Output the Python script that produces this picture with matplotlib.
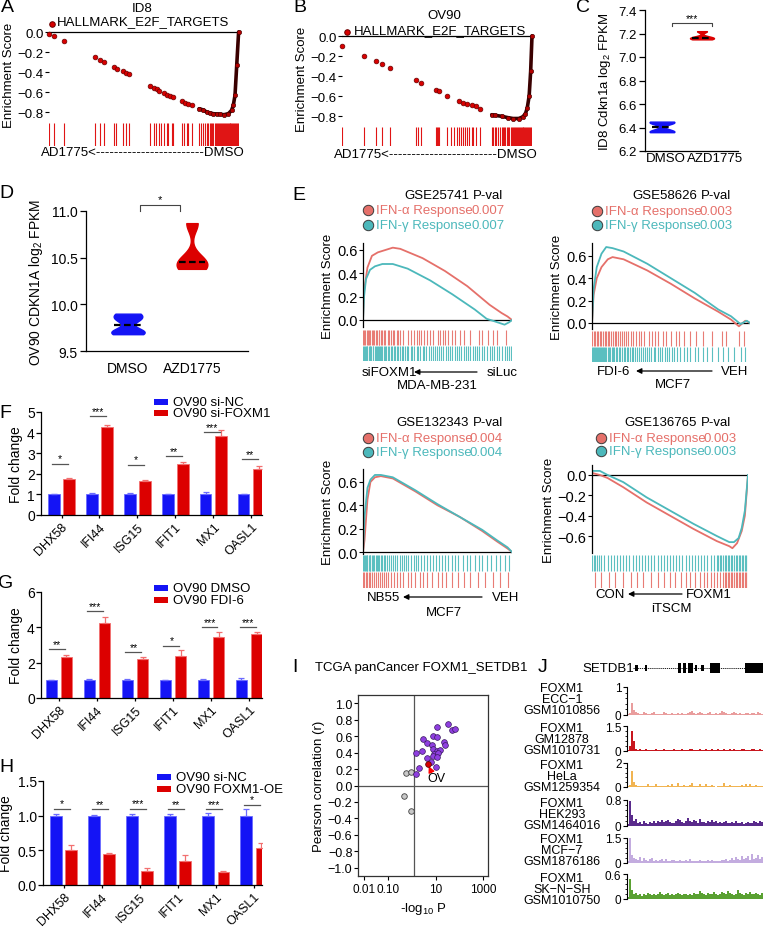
import numpy as np
import matplotlib
matplotlib.use("Agg")
import matplotlib.pyplot as plt
from matplotlib.patches import Rectangle, FancyArrowPatch
from matplotlib.lines import Line2D

plt.rcParams['font.family'] = ['Liberation Sans', 'DejaVu Sans']
plt.rcParams['mathtext.fontset'] = 'custom'
plt.rcParams['mathtext.rm'] = 'Liberation Sans'
plt.rcParams['mathtext.it'] = 'Liberation Sans:italic'
plt.rcParams['axes.linewidth'] = 0.9

# ------------------------------------------------------------------ data
# A  (ID8, HALLMARK_E2F_TARGETS) : rank fraction / running enrichment score
A_dot_x = [0.0, 0.026, 0.079, 0.24, 0.27, 0.29, 0.34, 0.36, 0.39, 0.405, 0.42, 0.53, 0.55, 0.57, 0.58,
           0.605, 0.62, 0.637, 0.654, 0.698, 0.718, 0.733, 0.751]
A_dot_es = [-0.017, -0.043, -0.09, -0.247, -0.277, -0.30, -0.35, -0.367, -0.39, -0.407, -0.423, -0.54, -0.56,
            -0.573, -0.59, -0.61, -0.627, -0.64, -0.653, -0.69, -0.707, -0.72, -0.733]
A_line_x = [0.791, 0.812, 0.83, 0.847, 0.865, 0.883, 0.90, 0.921, 0.944, 0.961, 0.97, 0.979, 0.988, 0.998]
A_line_es = [-0.767, -0.78, -0.80, -0.81, -0.817, -0.82, -0.823, -0.827, -0.817, -0.783, -0.733, -0.633, -0.333, 0.0]
A_hits = [0.0, 0.026, 0.079, 0.24, 0.27, 0.29, 0.34, 0.355, 0.39, 0.405, 0.42, 0.53, 0.55, 0.565, 0.578, 0.587,
          0.605, 0.62, 0.628, 0.645, 0.654, 0.698, 0.71, 0.724, 0.733, 0.751, 0.79, 0.80, 0.81, 0.82, 0.83,
          0.835, 0.845, 0.85, 0.86, 0.865, 0.875, 0.88, 0.885, 0.89, 0.895, 0.90, 0.905, 0.91, 0.915, 0.92,
          0.925, 0.93, 0.935, 0.94, 0.945, 0.95, 0.955, 0.96, 0.965, 0.97, 0.975, 0.98, 0.985, 0.99, 0.995, 1.0]

# B  (OV90, HALLMARK_E2F_TARGETS)
B_dot_x = [0.002, 0.114, 0.177, 0.209, 0.254, 0.391, 0.414, 0.495, 0.511, 0.554, 0.617, 0.638, 0.66,
           0.682, 0.703, 0.726]
B_dot_es = [-0.103, -0.20, -0.253, -0.283, -0.32, -0.443, -0.467, -0.537, -0.553, -0.597, -0.65, -0.667,
            -0.68, -0.693, -0.703, -0.727]
B_line_x = [0.788, 0.805, 0.84, 0.875, 0.90, 0.93, 0.95, 0.965, 0.975, 0.985, 0.993, 1.0]
B_line_es = [-0.787, -0.793, -0.803, -0.817, -0.825, -0.825, -0.81, -0.78, -0.72, -0.60, -0.35, 0.0]
B_hits = [0.002, 0.114, 0.177, 0.209, 0.254, 0.391, 0.40, 0.414, 0.495, 0.50, 0.505, 0.511, 0.554, 0.575,
          0.59, 0.605, 0.617, 0.625, 0.638, 0.645, 0.66, 0.668, 0.682, 0.69, 0.703, 0.726, 0.788, 0.795,
          0.805, 0.81, 0.82, 0.83, 0.84, 0.845, 0.855, 0.86, 0.87, 0.875, 0.88, 0.89, 0.895, 0.90, 0.905,
          0.91, 0.915, 0.92, 0.925, 0.93, 0.935, 0.94, 0.945, 0.95, 0.955, 0.96, 0.965, 0.97, 0.975, 0.98,
          0.985, 0.99, 0.995, 1.0]

# C / D violin replicates (log2 FPKM)
groups = ['DMSO', 'AZD1775']
C_dmso = [6.36, 6.37, 6.44, 6.45]
C_azd = [7.15, 7.16, 7.17, 7.22]
D_dmso = [9.68, 9.72, 9.84, 9.90]
D_azd = [10.38, 10.42, 10.48, 10.87]

# E  GSEA curves (rank fraction, ES) : red = IFN-alpha, teal = IFN-gamma
E1_rx = [0, 0.007, 0.03, 0.06, 0.10, 0.15, 0.20, 0.25, 0.40, 0.55, 0.70, 0.85, 0.93, 0.97, 1.0]
E1_ry = [0, 0.25, 0.45, 0.55, 0.58, 0.60, 0.62, 0.61, 0.53, 0.42, 0.29, 0.13, 0.06, 0.03, 0.0]
E1_tx = [0, 0.007, 0.02, 0.047, 0.08, 0.13, 0.20, 0.30, 0.45, 0.60, 0.75, 0.83, 0.88, 0.95, 0.98, 1.0]
E1_ty = [0, 0.20, 0.35, 0.43, 0.46, 0.48, 0.48, 0.44, 0.34, 0.22, 0.09, 0.01, -0.01, -0.04, -0.02, 0.0]
E2_rx = [0, 0.01, 0.03, 0.06, 0.10, 0.13, 0.20, 0.35, 0.50, 0.65, 0.80, 0.88, 0.93, 0.97, 1.0]
E2_ry = [0, 0.25, 0.40, 0.50, 0.57, 0.59, 0.57, 0.47, 0.35, 0.22, 0.10, 0.03, -0.03, 0.02, 0.0]
E2_tx = [0, 0.01, 0.03, 0.06, 0.09, 0.13, 0.20, 0.35, 0.50, 0.65, 0.80, 0.88, 0.94, 0.98, 1.0]
E2_ty = [0, 0.30, 0.50, 0.62, 0.68, 0.67, 0.64, 0.53, 0.40, 0.27, 0.12, 0.06, -0.01, 0.02, 0.0]
E3_rx = [0, 0.01, 0.03, 0.05, 0.08, 0.12, 0.20, 0.35, 0.50, 0.65, 0.80, 0.90, 0.97, 1.0]
E3_ry = [0, 0.10, 0.45, 0.60, 0.64, 0.65, 0.63, 0.52, 0.40, 0.30, 0.18, 0.09, 0.03, 0.0]
E3_tx = [0, 0.01, 0.03, 0.05, 0.08, 0.12, 0.20, 0.35, 0.50, 0.65, 0.80, 0.90, 0.97, 1.0]
E3_ty = [0, 0.30, 0.55, 0.62, 0.66, 0.66, 0.64, 0.53, 0.41, 0.30, 0.19, 0.10, 0.04, 0.0]
E4_rx = [0, 0.05, 0.10, 0.20, 0.35, 0.50, 0.65, 0.80, 0.88, 0.90, 0.93, 0.96, 0.98, 1.0]
E4_ry = [0.02, 0.0, -0.03, -0.12, -0.27, -0.40, -0.53, -0.65, -0.70, -0.72, -0.67, -0.55, -0.40, 0.0]
E4_tx = [0, 0.05, 0.10, 0.20, 0.35, 0.50, 0.65, 0.80, 0.88, 0.91, 0.94, 0.96, 0.98, 1.0]
E4_ty = [0.04, 0.04, 0.0, -0.07, -0.22, -0.35, -0.48, -0.60, -0.66, -0.66, -0.62, -0.52, -0.35, 0.0]

E1_rhits = [0.0, 0.008, 0.015, 0.025, 0.033, 0.04, 0.05, 0.058, 0.065, 0.075, 0.085, 0.095, 0.105, 0.11, 0.12,
            0.13, 0.14, 0.15, 0.165, 0.175, 0.185, 0.2, 0.21, 0.225, 0.235, 0.25, 0.27, 0.3, 0.32, 0.34, 0.36,
            0.375, 0.39, 0.41, 0.43, 0.45, 0.47, 0.5, 0.52, 0.54, 0.55, 0.57, 0.6, 0.62, 0.65, 0.68, 0.72,
            0.78, 0.8, 0.84, 0.87, 0.9, 0.96]
E1_thits = [0.0, 0.006, 0.012, 0.018, 0.024, 0.03, 0.037, 0.044, 0.05, 0.057, 0.064, 0.07, 0.078, 0.085, 0.092,
            0.1, 0.108, 0.115, 0.123, 0.13, 0.14, 0.148, 0.156, 0.165, 0.175, 0.185, 0.195, 0.205, 0.215,
            0.225, 0.235, 0.245, 0.26, 0.27, 0.28, 0.295, 0.305, 0.32, 0.33, 0.345, 0.36, 0.37, 0.385, 0.4,
            0.41, 0.425, 0.44, 0.455, 0.47, 0.48, 0.495, 0.51, 0.525, 0.54, 0.555, 0.57, 0.585, 0.6, 0.615,
            0.63, 0.645, 0.66, 0.675, 0.69, 0.705, 0.72, 0.735, 0.75, 0.765, 0.78, 0.8, 0.815, 0.83, 0.85,
            0.865, 0.88, 0.9, 0.915, 0.93, 0.95, 0.965, 0.98, 0.995]
E2_rhits = [0.0, 0.01, 0.02, 0.03, 0.04, 0.05, 0.06, 0.07, 0.08, 0.09, 0.1, 0.11, 0.12, 0.13, 0.145, 0.155,
            0.165, 0.18, 0.19, 0.2, 0.215, 0.23, 0.245, 0.26, 0.28, 0.3, 0.31, 0.33, 0.36, 0.38, 0.4, 0.42,
            0.45, 0.47, 0.5, 0.53, 0.55, 0.58, 0.62, 0.66, 0.7, 0.76, 0.82, 0.85, 0.93, 0.96]
E2_thits = [0.0, 0.006, 0.012, 0.018, 0.024, 0.03, 0.036, 0.042, 0.048, 0.055, 0.062, 0.07, 0.077, 0.084,
            0.091, 0.1, 0.108, 0.116, 0.124, 0.132, 0.14, 0.15, 0.16, 0.17, 0.18, 0.19, 0.2, 0.21, 0.22, 0.23,
            0.24, 0.25, 0.26, 0.27, 0.285, 0.3, 0.31, 0.32, 0.335, 0.35, 0.36, 0.375, 0.39, 0.4, 0.415, 0.43,
            0.445, 0.46, 0.475, 0.49, 0.505, 0.52, 0.54, 0.56, 0.58, 0.6, 0.62, 0.65, 0.67, 0.7, 0.73, 0.76,
            0.8, 0.83, 0.86, 0.9, 0.94, 0.97]
E3_thits = [0.0, 0.006, 0.012, 0.018, 0.024, 0.03, 0.037, 0.044, 0.05, 0.058, 0.066, 0.075, 0.084, 0.093,
            0.1, 0.11, 0.12, 0.13, 0.14, 0.15, 0.16, 0.175, 0.19, 0.2, 0.215, 0.23, 0.245, 0.26, 0.275, 0.29,
            0.305, 0.32, 0.34, 0.355, 0.37, 0.39, 0.41, 0.43, 0.45, 0.47, 0.49, 0.51, 0.53, 0.55, 0.57, 0.6,
            0.62, 0.64, 0.67, 0.7, 0.72, 0.75, 0.78, 0.8, 0.83, 0.86, 0.89, 0.92, 0.95, 0.98]
E3_rhits = [0.0, 0.01, 0.02, 0.03, 0.04, 0.05, 0.06, 0.075, 0.09, 0.1, 0.115, 0.13, 0.14, 0.155, 0.17, 0.19,
            0.21, 0.23, 0.25, 0.27, 0.3, 0.32, 0.35, 0.38, 0.4, 0.43, 0.46, 0.5, 0.53, 0.56, 0.6, 0.64, 0.68,
            0.72, 0.77, 0.82, 0.87, 0.92, 0.97]
E4_thits = [0.0, 0.01, 0.02, 0.03, 0.045, 0.06, 0.08, 0.1, 0.12, 0.14, 0.16, 0.18, 0.2, 0.22, 0.24, 0.26,
            0.28, 0.3, 0.32, 0.34, 0.36, 0.38, 0.4, 0.42, 0.44, 0.46, 0.48, 0.5, 0.52, 0.54, 0.56, 0.58, 0.6,
            0.62, 0.64, 0.66, 0.68, 0.7, 0.72, 0.74, 0.76, 0.78, 0.8, 0.81, 0.82, 0.83, 0.84, 0.85, 0.86,
            0.87, 0.88, 0.89, 0.9, 0.91, 0.92, 0.93, 0.94, 0.95, 0.96, 0.97, 0.98, 0.99, 1.0]
E4_rhits = [0.02, 0.06, 0.11, 0.15, 0.2, 0.25, 0.29, 0.33, 0.38, 0.42, 0.46, 0.5, 0.53, 0.57, 0.6, 0.63,
            0.66, 0.69, 0.72, 0.74, 0.76, 0.78, 0.8, 0.82, 0.84, 0.85, 0.86, 0.87, 0.88, 0.89, 0.9, 0.91,
            0.92, 0.93, 0.94, 0.95, 0.96, 0.97, 0.98, 0.99, 1.0]

# F / G / H fold change
genes = ['DHX58', 'IFI44', 'ISG15', 'IFIT1', 'MX1', 'OASL1']
F_blue = [1.0, 1.0, 1.0, 1.0, 1.0, 1.0]
F_blue_err = [0.02, 0.05, 0.05, 0.01, 0.10, 0.03]
F_red = [1.75, 4.25, 1.65, 2.50, 3.85, 2.25]
F_red_err = [0.07, 0.10, 0.07, 0.05, 0.30, 0.12]
F_sig = ['*', '***', '*', '**', '***', '**']
F_sig_y = [2.5, 4.8, 2.45, 2.85, 4.02, 2.7]
G_blue = [1.0, 1.0, 1.0, 1.0, 1.0, 1.0]
G_blue_err = [0.02, 0.08, 0.08, 0.02, 0.08, 0.15]
G_red = [2.33, 4.25, 2.18, 2.37, 3.47, 3.63]
G_red_err = [0.08, 0.35, 0.15, 0.37, 0.28, 0.12]
G_sig = ['**', '***', '**', '*', '***', '***']
G_sig_y = [2.75, 4.9, 2.6, 2.95, 4.0, 4.0]
H_blue = [1.0, 1.0, 1.0, 1.0, 1.0, 1.0]
H_blue_err = [0.03, 0.01, 0.03, 0.03, 0.04, 0.10]
H_red = [0.50, 0.44, 0.20, 0.35, 0.19, 0.53]
H_red_err = [0.07, 0.02, 0.04, 0.08, 0.01, 0.08]
H_sig = ['*', '**', '***', '**', '***', '*']
H_sig_y = [1.1, 1.09, 1.1, 1.09, 1.09, 1.16]

# I  TCGA pan-cancer FOXM1-SETDB1 : -log10 P, Pearson r
I_sig_x = [34.7, 48, 66, 12, 8.2, 11.8, 3.1, 4.6, 23.7, 25, 1.5, 2.8, 7.2, 7.9, 11.3, 16, 8.7, 12.5, 8.2,
           11.8, 4.4, 6.6, 10.7, 2.0, 1.5]
I_sig_r = [0.75, 0.68, 0.69, 0.71, 0.60, 0.59, 0.56, 0.52, 0.53, 0.49, 0.40, 0.42, 0.49, 0.44, 0.42, 0.43,
           0.38, 0.40, 0.36, 0.35, 0.34, 0.29, 0.22, 0.21, 0.14]
I_ns_x = [0.6, 0.91, 0.48, 0.9]
I_ns_r = [0.15, 0.16, -0.13, -0.31]
I_ov_x = [5.0]
I_ov_r = [0.26]

# J  ChIP-seq tracks at SETDB1
J_names = [('FOXM1', 'ECC\u22121', 'GSM1010856'), ('FOXM1', 'GM12878', 'GSM1010731'),
           ('FOXM1', 'HeLa', 'GSM1259354'), ('FOXM1', 'HEK293', 'GSM1464016'),
           ('FOXM1', 'MCF\u22127', 'GSM1876186'), ('FOXM1', 'SK\u2212N\u2212SH', 'GSM1010750')]
J_max = [1, 1.5, 2, 0.8, 1.5, 0.6]
J_max_lbl = ['1', '1.5', '2', '0.8', '1.5', '0.6']
J_tr1 = [0.03, 0.08, 0.42, 0.18, 0.10, 0.06, 0.05, 0.04, 0.12, 0.07, 0.05, 0.04, 0.06, 0.09, 0.05, 0.04, 0.03,
         0.05, 0.10, 0.06, 0.04, 0.05, 0.08, 0.05, 0.04, 0.06, 0.05, 0.07, 0.04, 0.05, 0.06, 0.09, 0.13, 0.06,
         0.05, 0.08, 0.12, 0.07, 0.05, 0.04, 0.06, 0.10, 0.05, 0.04, 0.06, 0.05, 0.07, 0.15, 0.09, 0.06, 0.05,
         0.04, 0.06, 0.12, 0.08, 0.05, 0.06, 0.05, 0.04, 0.06, 0.08, 0.05, 0.07, 0.06, 0.05, 0.09, 0.06, 0.05]
J_tr2 = [0.05, 0.30, 1.20, 0.60, 0.15, 0.08, 0.10, 0.06, 0.08, 0.12, 0.07, 0.06, 0.09, 0.08, 0.10, 0.06, 0.07,
         0.09, 0.12, 0.08, 0.07, 0.06, 0.09, 0.11, 0.07, 0.08, 0.06, 0.10, 0.09, 0.07, 0.08, 0.12, 0.10, 0.07,
         0.09, 0.08, 0.11, 0.07, 0.06, 0.10, 0.09, 0.08, 0.12, 0.07, 0.09, 0.10, 0.08, 0.07, 0.11, 0.09, 0.08,
         0.10, 0.07, 0.12, 0.09, 0.08, 0.07, 0.10, 0.11, 0.08, 0.09, 0.07, 0.12, 0.10, 0.08, 0.09, 0.11, 0.08]
J_tr3 = [0.05, 0.20, 1.30, 0.45, 0.15, 0.08, 0.06, 0.10, 0.05, 0.07, 0.22, 0.08, 0.06, 0.05, 0.25, 0.10, 0.06,
         0.05, 0.12, 0.07, 0.18, 0.06, 0.28, 0.12, 0.08, 0.30, 0.10, 0.07, 0.20, 0.08, 0.05, 0.15, 0.35, 0.10,
         0.06, 0.08, 0.25, 0.12, 0.05, 0.22, 0.06, 0.08, 0.18, 0.05, 0.04, 0.06, 0.10, 0.05, 0.30, 0.12, 0.08,
         0.20, 0.06, 0.05, 0.07, 0.05, 0.06, 0.15, 0.08, 0.22, 0.10, 0.25, 0.12, 0.08, 0.18, 0.10, 0.06, 0.08]
J_tr4 = [0.05, 0.78, 0.35, 0.15, 0.22, 0.08, 0.12, 0.06, 0.15, 0.10, 0.07, 0.12, 0.09, 0.14, 0.10, 0.16, 0.12,
         0.18, 0.13, 0.15, 0.20, 0.12, 0.10, 0.08, 0.15, 0.22, 0.18, 0.12, 0.10, 0.16, 0.25, 0.14, 0.12, 0.20,
         0.15, 0.10, 0.22, 0.13, 0.12, 0.09, 0.14, 0.11, 0.18, 0.12, 0.16, 0.10, 0.13, 0.09, 0.11, 0.14, 0.10,
         0.08, 0.12, 0.09, 0.15, 0.10, 0.08, 0.11, 0.07, 0.09, 0.12, 0.08, 0.10, 0.16, 0.12, 0.09, 0.14, 0.11]
J_tr5 = [0.10, 1.50, 0.50, 0.30, 0.25, 0.20, 0.35, 0.15, 0.28, 0.18, 0.12, 0.25, 0.30, 0.15, 0.20, 0.12, 0.18,
         0.25, 0.14, 0.22, 0.15, 0.12, 0.20, 0.16, 0.12, 0.15, 0.20, 0.12, 0.10, 0.18, 0.14, 0.22, 0.15, 0.12,
         0.10, 0.14, 0.18, 0.12, 0.10, 0.13, 0.16, 0.12, 0.18, 0.14, 0.10, 0.15, 0.12, 0.20, 0.16, 0.25, 0.15,
         0.18, 0.30, 0.20, 0.35, 0.22, 0.18, 0.40, 0.25, 0.30, 0.45, 0.20, 0.55, 0.25, 0.30, 0.48, 0.22, 0.35]
J_tr6 = [0.05, 0.48, 0.22, 0.12, 0.15, 0.10, 0.13, 0.08, 0.12, 0.10, 0.15, 0.11, 0.09, 0.13, 0.10, 0.12, 0.16,
         0.11, 0.09, 0.12, 0.14, 0.10, 0.12, 0.09, 0.11, 0.15, 0.12, 0.10, 0.13, 0.11, 0.09, 0.12, 0.10, 0.14,
         0.11, 0.13, 0.20, 0.14, 0.12, 0.10, 0.15, 0.12, 0.11, 0.18, 0.13, 0.10, 0.12, 0.16, 0.14, 0.11, 0.20,
         0.15, 0.12, 0.10, 0.13, 0.22, 0.15, 0.12, 0.10, 0.14, 0.12, 0.18, 0.13, 0.11, 0.15, 0.12, 0.10, 0.14]
J_colors = ['#e99d9d', '#c8161e', '#f1b452', '#5a2b8c', '#c3acdf', '#5aa132']
SETDB1_exons = [(2, 5), (12, 14), (45, 48), (50, 53), (55, 60), (62, 64), (68, 71), (77, 87), (112, 130)]
SETDB1_big = [False, False, True, True, True, False, False, True, True]

# ------------------------------------------------------------------ helpers
W, H = 763, 929
fig = plt.figure(figsize=(W / 100, H / 100), dpi=100)
fig.patch.set_facecolor('white')

BLUE = '#1414f5'
RED = '#dc0000'
RED_L = '#e5706a'
TEAL = '#4cb8bb'


def ax_px(x0, y0, x1, y1):
    return fig.add_axes([x0 / W, 1 - y1 / H, (x1 - x0) / W, (y1 - y0) / H])


def txt(x, y, s, size=9.5, ha='center', va='center', **kw):
    return fig.text(x / W, 1 - y / H, s, fontsize=size, ha=ha, va=va, **kw)


def dot(x, y, fc, ms=7.5, ec='#3a3a3a'):
    fig.add_artist(Line2D([x / W], [1 - y / H], marker='o', ms=ms, mfc=fc, mec=ec, mew=0.7,
                          ls='none', transform=fig.transFigure))


def arrow(x_from, x_to, y):
    fig.add_artist(FancyArrowPatch((x_from / W, 1 - y / H), (x_to / W, 1 - y / H),
                                   transform=fig.transFigure, arrowstyle='-|>', mutation_scale=8,
                                   lw=0.9, color='k', shrinkA=0, shrinkB=0))


def minus(v, fmt='{:.1f}'):
    return fmt.format(v).replace('-', '\u2212')


# ------------------------------------------------------------------ A / B
def es_dot_panel(es_rect, bar_rect, dx, dy, lx, ly, hits, ylabel_pad=2):
    ax = ax_px(*es_rect)
    ax.axhline(0, color='k', lw=0.9, zorder=1)
    ax.plot(lx, ly, color='#3a0000', lw=2.6, zorder=2, solid_capstyle='round', clip_on=False)
    ax.plot(lx, ly, 'o', ms=3.2, mfc='#b40000', mec='#3a0000', mew=0.4, zorder=3, clip_on=False)
    ax.plot(dx, dy, 'o', ms=3.4, mfc='#d80000', mec='#6a0000', mew=0.5, zorder=3, clip_on=False)
    ax.set_xlim(0, 1)
    ax.set_ylim(-0.86, 0.02)
    yt = [0.0, -0.2, -0.4, -0.6, -0.8]
    ax.set_yticks(yt)
    ax.set_yticklabels([minus(v) for v in yt])
    for s in ax.spines.values():
        s.set_visible(False)
    ax.set_xticks([])
    ax.tick_params(axis='y', length=3, width=0.8, labelsize=9.5, pad=1)
    ax.set_ylabel('Enrichment Score', fontsize=9.5, labelpad=ylabel_pad)
    ax.patch.set_alpha(0)
    axb = ax_px(*bar_rect)
    axb.vlines(hits, 0, 1, color='#e01515', lw=0.8)
    axb.set_xlim(0, 1)
    axb.set_ylim(0, 1)
    axb.axis('off')


es_dot_panel((49, 31, 239, 119), (49, 124, 239, 147), A_dot_x, A_dot_es, A_line_x, A_line_es, A_hits)
txt(142, 9, 'ID8')
txt(143, 22, 'HALLMARK_E2F_TARGETS')
dot(52, 25, '#d80000', ms=4, ec='#6a0000')
txt(143, 153, 'AD1775<' + '-' * 24 + 'DMSO')

es_dot_panel((342, 35, 532, 123), (342, 128, 532, 147), B_dot_x, B_dot_es, B_line_x, B_line_es, B_hits)
txt(444, 16, 'OV90')
txt(440, 31, 'HALLMARK_E2F_TARGETS')
dot(347, 33, '#d80000', ms=4, ec='#6a0000')
txt(436, 155, 'AD1775<' + '-' * 24 + 'DMSO')


# ------------------------------------------------------------------ C / D violins
def violin_panel(rect, data, xlim, ylim, yticks, ylabels, widths, bw, ylabel, xticks, lab_pad, tick_size):
    ax = ax_px(*rect)
    parts = ax.violinplot(data, positions=[0, 1], widths=widths, showextrema=False, bw_method=bw)
    for body, c in zip(parts['bodies'], [BLUE, RED]):
        body.set_facecolor(c)
        body.set_edgecolor(c)
        body.set_alpha(1)
    for i, d in enumerate(data):
        med = np.median(d)
        ax.hlines(med, i - widths[i] * 0.42, i + widths[i] * 0.42, colors='k', linestyles=(0, (3, 1.5)), lw=1.6)
    ax.set_xlim(*xlim)
    ax.set_ylim(*ylim)
    ax.set_yticks(yticks)
    ax.set_yticklabels(ylabels)
    ax.set_xticks(xticks)
    ax.set_xticklabels(groups)
    for s in ['top', 'right']:
        ax.spines[s].set_visible(False)
    ax.tick_params(axis='y', length=4, width=0.9, labelsize=tick_size, pad=2)
    ax.tick_params(axis='x', length=0, labelsize=tick_size, pad=lab_pad)
    ax.set_ylabel(ylabel, fontsize=tick_size)
    return ax


axC = violin_panel((645, 11, 738, 152), [C_dmso, C_azd], (-0.425, 1.9), (6.2, 7.4),
                   [6.2, 6.4, 6.6, 6.8, 7.0, 7.2, 7.4], ['6.2', '6.4', '6.6', '6.8', '7.0', '7.2', '7.4'],
                   [0.62, 0.6], 0.4, 'ID8 Cdkn1a log$_2$ FPKM', [0.1, 1.33], 1, 9.5)
axC.plot([0.25, 0.25, 1.25, 1.25], [7.26, 7.287, 7.287, 7.26], color='#444444', lw=0.8, clip_on=False)
axC.text(0.75, 7.29, '***', ha='center', va='bottom', fontsize=7.5)

axD = violin_panel((86, 212, 248, 352), [D_dmso, D_azd], (-0.656, 1.875), (9.5, 11.0),
                   [9.5, 10.0, 10.5, 11.0], ['9.5', '10.0', '10.5', '11.0'],
                   [0.52, 0.48], 0.4, 'OV90 CDKN1A log$_2$ FPKM', [0, 1], 7, 10)
axD.plot([0.19, 0.19, 0.81, 0.81], [11.0, 11.064, 11.064, 11.0], color='#444444', lw=0.8, clip_on=False)
axD.text(0.5, 11.07, '*', ha='center', va='bottom', fontsize=8)


# ------------------------------------------------------------------ E GSEA
def gsea_panel(es_rect, bar_rect, rx, ry, tx, ty, rh, th, ylim, yticks, teal_top):
    ax = ax_px(*es_rect)
    ax.axhline(0, color='k', lw=0.9)
    ax.plot(rx, ry, color=RED_L, lw=1.3)
    ax.plot(tx, ty, color=TEAL, lw=1.3)
    ax.set_xlim(0, 1)
    ax.set_ylim(*ylim)
    for s in ['top', 'right', 'bottom']:
        ax.spines[s].set_visible(False)
    ax.set_xticks([])
    ax.set_yticks(yticks)
    ax.set_yticklabels([minus(v) for v in yticks])
    ax.tick_params(axis='y', length=3, width=0.8, labelsize=10.5, pad=1)
    ax.set_ylabel('Enrichment Score', fontsize=9.5, labelpad=2)
    axb = ax_px(*bar_rect)
    if teal_top:
        axb.vlines(th, 0.52, 1, color='#5bbfc0', lw=0.8)
        axb.vlines(rh, 0, 0.48, color='#e87c75', lw=0.8)
    else:
        axb.vlines(rh, 0.52, 1, color='#e87c75', lw=0.8)
        axb.vlines(th, 0, 0.48, color='#5bbfc0', lw=0.8)
    axb.set_xlim(0, 1)
    axb.set_ylim(0, 1)
    axb.axis('off')


def gsea_legend(title, tx_right, ty, dot_x, row1, row2, val_x, pval):
    txt(tx_right, ty, title, ha='right')
    txt(tx_right + 4, ty, 'P-val', ha='left')
    dot(dot_x, row1, RED_L)
    dot(dot_x, row2, TEAL)
    txt(dot_x + 8, row1, 'IFN-\u03b1 Response', ha='left', color=RED_L)
    txt(dot_x + 8, row2, 'IFN-\u03b3 Response', ha='left', color=TEAL)
    txt(val_x, row1, pval, ha='left', color=RED_L)
    txt(val_x, row2, pval, ha='left', color=TEAL)


gsea_panel((363, 244, 512, 328), (363, 331, 512, 362), E1_rx, E1_ry, E1_tx, E1_ty, E1_rhits, E1_thits,
           (-0.06, 0.66), [0.0, 0.2, 0.4, 0.6], False)
gsea_legend('GSE25741', 469, 196, 368, 211, 226, 471, '0.007')
txt(362, 373, 'siFOXM1', ha='left')
arrow(477, 414, 373)
txt(487, 373, 'siLuc', ha='left')
txt(437, 386, 'MDA-MB-231')

gsea_panel((592, 244, 750, 330), (592, 332, 750, 363), E2_rx, E2_ry, E2_tx, E2_ty, E2_rhits, E2_thits,
           (-0.054, 0.716), [0.0, 0.2, 0.4, 0.6], False)
gsea_legend('GSE58626', 697, 196, 597, 212, 226, 700, '0.003')
txt(597, 372, 'FDI-6', ha='left')
arrow(712, 636, 372)
txt(721, 372, 'VEH', ha='left')
txt(673, 385, 'MCF7')

gsea_panel((363, 470, 512, 555), (363, 556, 512, 589), E3_rx, E3_ry, E3_tx, E3_ty, E3_rhits, E3_thits,
           (-0.017, 0.711), [0.0, 0.2, 0.4, 0.6], True)
gsea_legend('GSE132343', 469, 423, 368, 439, 453, 470, '0.004')
txt(367, 598, 'NB55', ha='left')
arrow(482, 403, 598)
txt(492, 598, 'VEH', ha='left')
txt(444, 613, 'MCF7')

gsea_panel((592, 466, 748, 554), (592, 556, 748, 589), E4_rx, E4_ry, E4_tx, E4_ty, E4_rhits, E4_thits,
           (-0.767, 0.098), [0.0, -0.2, -0.4, -0.6], True)
gsea_legend('GSE136765', 697, 423, 601, 439, 452, 703, '0.003')
txt(595, 595, 'CON', ha='left')
arrow(682, 628, 595)
txt(686, 595, 'FOXM1', ha='left')
txt(671, 609, 'iTSCM')


# ------------------------------------------------------------------ F / G / H bars
def bar_panel(rect, xlim, blue, berr, red, rerr, sig, sig_y, ylim, yticks, ytl, leg, leg_x, leg_y):
    ax = ax_px(*rect)
    x = np.arange(len(genes))
    z = np.zeros(len(genes))
    ax.bar(x - 0.2, blue, 0.3, color=BLUE, edgecolor='#6b6bff', lw=0.6,
           yerr=[z, berr], error_kw=dict(ecolor='#6b6bff', elinewidth=0.9, capsize=2.2, capthick=0.9))
    ax.bar(x + 0.2, red, 0.3, color=RED, edgecolor='#f27070', lw=0.6,
           yerr=[z, rerr], error_kw=dict(ecolor='#f27070', elinewidth=0.9, capsize=2.2, capthick=0.9))
    for i, (s, yy) in enumerate(zip(sig, sig_y)):
        ax.plot([i - 0.25, i + 0.17], [yy, yy], color='#555555', lw=0.9)
        ax.text(i - 0.04, yy + (ylim[1] - ylim[0]) * 0.003, s, ha='center', va='bottom', fontsize=7.5)
    ax.set_xlim(*xlim)
    ax.set_ylim(*ylim)
    ax.set_yticks(yticks)
    ax.set_yticklabels(ytl)
    ax.set_xticks(x)
    ax.set_xticklabels(genes, rotation=45, ha='right', rotation_mode='anchor')
    for s in ['top', 'right']:
        ax.spines[s].set_visible(False)
    ax.tick_params(axis='y', length=3.5, width=0.9, labelsize=10, pad=1)
    ax.tick_params(axis='x', length=2.5, width=0.9, labelsize=9, pad=1.5)
    ax.set_ylabel('Fold change', fontsize=10, labelpad=3)
    for k, (lab, c) in enumerate(zip(leg, [BLUE, RED])):
        yy = leg_y[k]
        fig.add_artist(Rectangle((leg_x / W, 1 - (yy + 3) / H), 14 / W, 6 / H, transform=fig.transFigure,
                                 facecolor=c, edgecolor='none'))
        txt(leg_x + 19, yy, lab, ha='left', size=9.5)
    return ax


bar_panel((41, 413, 262, 516), (-0.54, 5.28), F_blue, F_blue_err, F_red, F_red_err, F_sig, F_sig_y,
          (0, 5), [0, 1, 2, 3, 4, 5], ['0', '1', '2', '3', '4', '5'], ['OV90 si-NC', 'OV90 si-FOXM1'],
          154, [403, 414])
bar_panel((41, 593, 262, 699), (-0.47, 5.34), G_blue, G_blue_err, G_red, G_red_err, G_sig, G_sig_y,
          (0, 6), [0, 2, 4, 6], ['0', '2', '4', '6'], ['OV90 DMSO', 'OV90 FDI-6'], 154, [589, 601])
bar_panel((43, 782, 262, 886), (-0.54, 5.22), H_blue, H_blue_err, H_red, H_red_err, H_sig, H_sig_y,
          (0, 1.5), [0, 0.5, 1.0, 1.5], ['0.0', '0.5', '1.0', '1.5'], ['OV90 si-NC', 'OV90 FOXM1-OE'],
          157, [778, 790])

# ------------------------------------------------------------------ I scatter
axI = ax_px(358, 696, 488, 877)
axI.set_xscale('log')
axI.axvline(1.3, color='#555555', lw=0.9)
axI.axhline(0, color='#555555', lw=0.9)
axI.scatter(I_ns_x, I_ns_r, s=16, c='#c8c8c8', edgecolors='#404040', linewidths=0.6, zorder=3)
axI.scatter(I_sig_x, I_sig_r, s=17, c='#8f3fe0', edgecolors='#3a1a60', linewidths=0.5, zorder=3)
axI.scatter(I_ov_x, I_ov_r, s=17, c='#d40000', edgecolors='#500000', linewidths=0.5, zorder=4)
axI.annotate('', xy=(5.2, 0.235), xytext=(6.8, 0.16),
             arrowprops=dict(arrowstyle='-|>', color='red', lw=1.0, mutation_scale=9, shrinkA=0, shrinkB=0))
axI.text(10.5, 0.09, 'OV', ha='center', va='center', fontsize=9)
axI.set_xlim(10 ** -2.25, 10 ** 3.2)
axI.set_ylim(-1.1, 1.1)
axI.set_xticks([0.01, 0.1, 10, 1000])
axI.set_xticklabels(['0.01', '0.10', '10', '1000'])
axI.xaxis.set_minor_locator(matplotlib.ticker.NullLocator())
yI = [1.0, 0.8, 0.6, 0.4, 0.2, 0.0, -0.2, -0.4, -0.6, -0.8, -1.0]
axI.set_yticks(yI)
axI.set_yticklabels([minus(v) for v in yI])
axI.tick_params(axis='y', length=3, width=0.8, labelsize=9, pad=1)
axI.tick_params(axis='x', length=3, width=0.8, labelsize=8.5, pad=2)
for s in axI.spines.values():
    s.set_color('#333333')
axI.set_ylabel('Pearson correlation (r)', fontsize=9.5, labelpad=2)
axI.set_xlabel('-log$_{10}$ P', fontsize=9.5, labelpad=4)
txt(315, 668, 'TCGA panCancer FOXM1_SETDB1', ha='left', size=9.5)

# ------------------------------------------------------------------ J tracks
txt(582, 669, 'SETDB1', ha='left', size=9.5)
axG = ax_px(633, 663, 763, 675)
axG.hlines(0, 0, 130, color='k', lw=0.6, linestyles=(0, (1.5, 1)))
for (a, b), big in zip(SETDB1_exons, SETDB1_big):
    h = 0.8 if big else 0.45
    axG.add_patch(Rectangle((a, -h), b - a, 2 * h, facecolor='k', edgecolor='none'))
axG.set_xlim(0, 130)
axG.set_ylim(-1, 1)
axG.axis('off')

J_tracks = [J_tr1, J_tr2, J_tr3, J_tr4, J_tr5, J_tr6]
J_rows = [(688, 716), (727, 752), (764, 788), (801, 827), (839, 864), (875, 900)]
J_lab_y = [(689, 700, 711), (729, 740, 751), (766, 777, 788), (804, 815, 826), (840, 851, 862),
           (879, 890, 901)]
for k in range(6):
    y0, y1 = J_rows[k]
    axt = ax_px(627, y0, 763, y1)
    vals = J_tracks[k]
    axt.bar(np.arange(len(vals)), vals, width=1.0, color=J_colors[k], lw=0)
    axt.set_xlim(-0.5, len(vals) - 0.5)
    axt.set_ylim(0, J_max[k])
    for s in ['top', 'right', 'bottom']:
        axt.spines[s].set_visible(False)
    axt.spines['left'].set_linewidth(0.8)
    axt.set_xticks([])
    axt.set_yticks([0, J_max[k]])
    axt.set_yticklabels(['0', J_max_lbl[k]])
    axt.set_yticks(np.linspace(0, J_max[k], 6), minor=True)
    axt.tick_params(axis='y', which='major', length=3, width=0.8, labelsize=8.5, pad=1)
    axt.tick_params(axis='y', which='minor', length=1.5, width=0.6)
    for line, yy in zip(J_names[k], J_lab_y[k]):
        txt(562, yy, line, size=9)

# ------------------------------------------------------------------ panel letters
for lab, (x, y) in {'A': (7, 8), 'B': (300, 8), 'C': (583, 8), 'D': (6, 194), 'E': (299, 195),
                    'F': (5, 413), 'G': (6, 583), 'H': (6, 767), 'I': (295, 668), 'J': (543, 668)}.items():
    txt(x, y, lab, size=14)

fig.savefig('out.png', dpi=100)
